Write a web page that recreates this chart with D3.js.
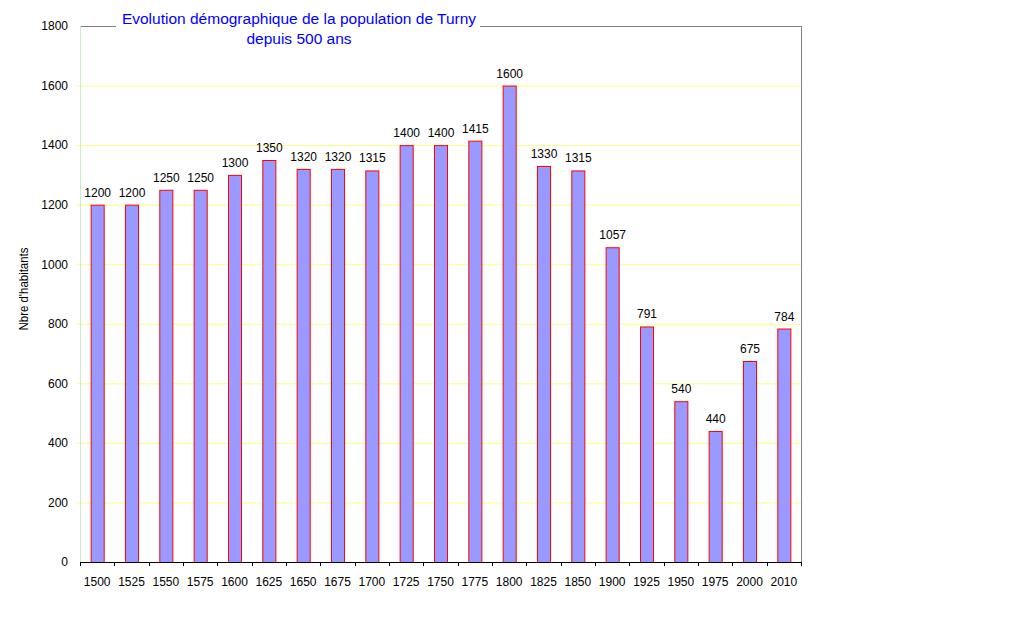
<!DOCTYPE html>
<html>
<head>
<meta charset="utf-8">
<script src="https://cdn.jsdelivr.net/npm/d3@7"></script>
<style>
  body { margin: 0; background: #fff; }
  text { font-family: "Liberation Sans", Arial, sans-serif; }
</style>
</head>
<body>
<div id="chart"></div>
<script>
// data
var years = ["1500","1525","1550","1575","1600","1625","1650","1675","1700","1725","1750",
             "1775","1800","1825","1850","1900","1925","1950","1975","2000","2010"]
var population = [1200,1200,1250,1250,1300,1350,1320,1320,1315,1400,1400,
                  1415,1600,1330,1315,1057,791,540,440,675,784]
var yTicks = [0,200,400,600,800,1000,1200,1400,1600,1800]
var titleLines = ["Evolution démographique de la population de Turny", "depuis 500 ans"]
var yLabel = "Nbre d'habitants"

var data = years.map(function(y, i) { return {year: y, value: population[i]} })

var margin = {top: 26, right: 219, bottom: 55, left: 80},
    width = 1020 - margin.left - margin.right,
    height = 617 - margin.top - margin.bottom

var svg = d3.select("#chart")
  .append("svg")
    .attr("width", 1020)
    .attr("height", 617)
  .append("g")
    .attr("transform", "translate(" + margin.left + "," + margin.top + ")")

var x = d3.scaleBand()
  .domain(years)
  .range([0, width])
  .paddingInner(0.62)
  .paddingOuter(0.31)

var y = d3.scaleLinear()
  .domain([0, 1800])
  .range([height, 0])

// gridlines
svg.append("g")
  .selectAll("line")
  .data(yTicks.filter(function(d) { return d > 0 && d < 1800 }))
  .enter()
  .append("line")
    .attr("x1", -3)
    .attr("x2", width)
    .attr("y1", function(d) { return y(d) + 0.5 })
    .attr("y2", function(d) { return y(d) + 0.5 })
    .attr("stroke", "#ffff80")

// plot frame: top and right gray, left light green
svg.append("line")
  .attr("x1", 0).attr("x2", width + 1).attr("y1", 0.5).attr("y2", 0.5)
  .attr("stroke", "#808080")
svg.append("line")
  .attr("x1", width + 0.5).attr("x2", width + 0.5).attr("y1", 0).attr("y2", height)
  .attr("stroke", "#808080")
svg.append("line")
  .attr("x1", 0.5).attr("x2", 0.5).attr("y1", 0).attr("y2", height)
  .attr("stroke", "#c8f0c8")

// y axis labels
var yAxis = svg.append("g")
  .call(d3.axisLeft(y).tickValues(yTicks).tickFormat(d3.format("d")).tickSize(0).tickPadding(12))
yAxis.select(".domain").remove()
yAxis.selectAll("text").attr("font-size", 12).attr("fill", "#000")
  .attr("font-family", "Liberation Sans, Arial, sans-serif")

// bars
svg.append("g")
  .selectAll("rect")
  .data(data)
  .enter()
  .append("rect")
    .attr("x", function(d) { return x(d.year) + 0.5 })
    .attr("y", function(d) { return y(d.value) + 0.5 })
    .attr("width", x.bandwidth())
    .attr("height", function(d) { return height - y(d.value) })
    .attr("fill", "#9999ff")
    .attr("stroke", "#ff0000")

// value labels
svg.append("g")
  .selectAll("text")
  .data(data)
  .enter()
  .append("text")
    .attr("x", function(d) { return x(d.year) + x.bandwidth() / 2 + 0.5 })
    .attr("y", function(d) { return y(d.value) - 8 })
    .attr("text-anchor", "middle")
    .attr("font-size", 12)
    .text(function(d) { return d.value })

// x axis with ticks at band boundaries
var xg = svg.append("g")
  .attr("transform", "translate(0," + height + ")")
xg.append("line")
  .attr("x1", 0).attr("x2", width + 1).attr("y1", 0.5).attr("y2", 0.5)
  .attr("stroke", "#000")
xg.selectAll(".tk")
  .data(d3.range(years.length + 1))
  .enter()
  .append("line")
    .attr("x1", function(i) { return Math.round(i * width / years.length) + 0.5 })
    .attr("x2", function(i) { return Math.round(i * width / years.length) + 0.5 })
    .attr("y1", 0)
    .attr("y2", 4)
    .attr("stroke", "#000")
xg.selectAll(".lbl")
  .data(years)
  .enter()
  .append("text")
    .attr("x", function(d, i) { return (i + 0.5) * width / years.length })
    .attr("y", 24)
    .attr("text-anchor", "middle")
    .attr("font-size", 12)
    .text(function(d) { return d })

// y axis title
svg.append("text")
  .attr("transform", "translate(" + (-52) + "," + (289 - margin.top) + ") rotate(-90)")
  .attr("text-anchor", "middle")
  .attr("font-size", 12)
  .attr("textLength", 83)
  .attr("lengthAdjust", "spacingAndGlyphs")
  .text(yLabel)

// chart title, white box over the frame
var title = d3.select("svg").append("g")
title.append("rect")
  .attr("x", 116).attr("y", 6).attr("width", 364).attr("height", 44)
  .attr("fill", "#fff")
title.selectAll("text")
  .data(titleLines)
  .enter()
  .append("text")
    .attr("x", 299)
    .attr("y", function(d, i) { return 24 + i * 20 })
    .attr("text-anchor", "middle")
    .attr("font-size", 15.5)
    .attr("fill", "#0000ff")
    .text(function(d) { return d })
</script>
</body>
</html>
